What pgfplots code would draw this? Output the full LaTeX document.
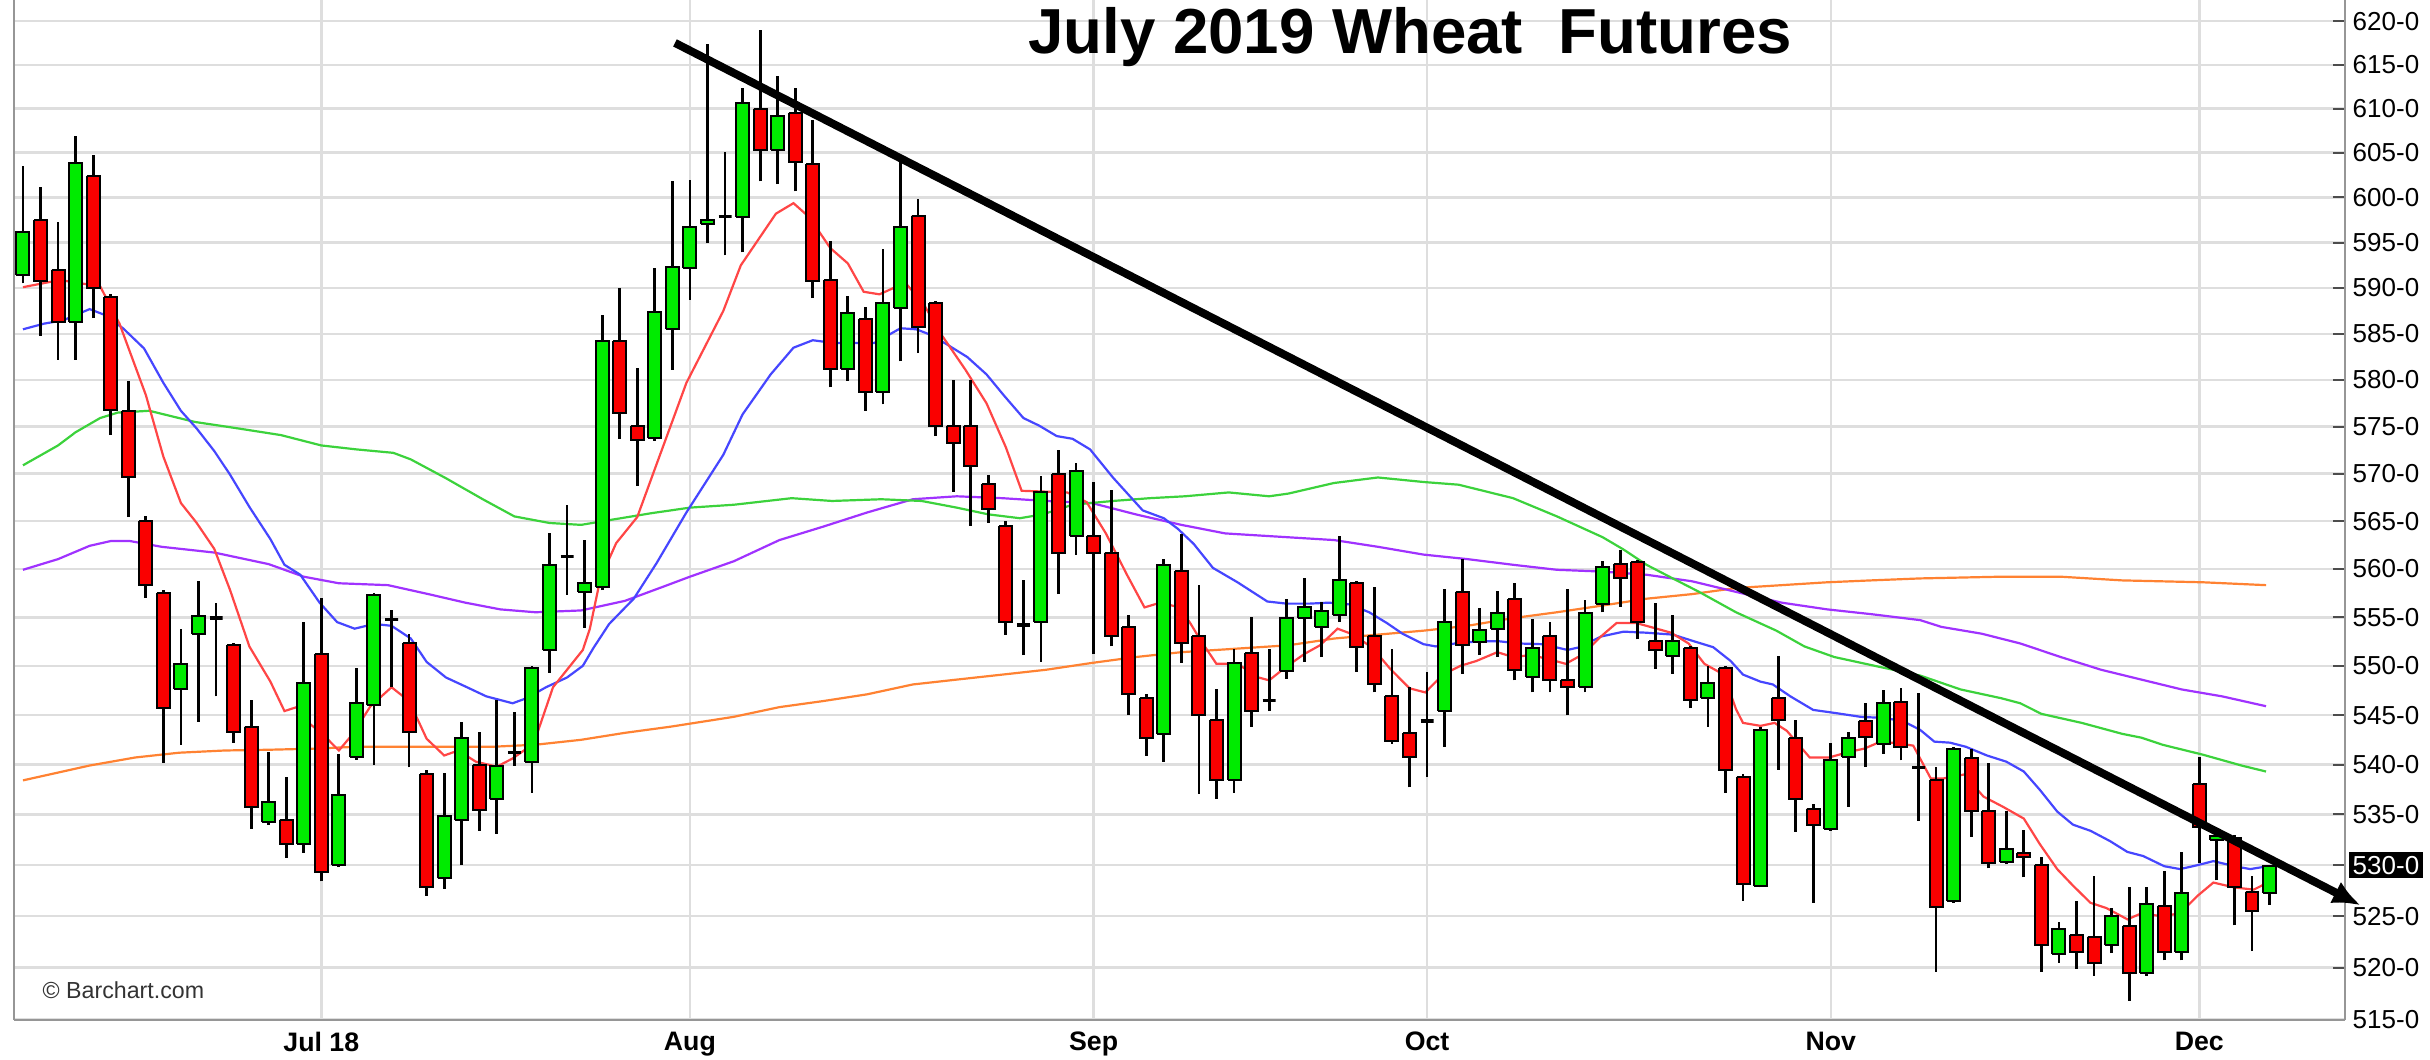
\documentclass[border=0pt]{standalone}
\usepackage{pgfplots}
\pgfplotsset{compat=1.18}
\usepackage{fontspec}
\setmainfont{Liberation Sans}
\usetikzlibrary{arrows.meta}

\definecolor{cgreen}{RGB}{0,235,0}
\definecolor{cred}{RGB}{250,0,0}
\definecolor{mared}{RGB}{255,70,70}
\definecolor{mablue}{RGB}{70,70,255}
\definecolor{magreen}{RGB}{60,210,60}
\definecolor{mapurple}{RGB}{160,50,255}
\definecolor{maorange}{RGB}{255,130,50}
\definecolor{gridgray}{RGB}{222,222,222}
\definecolor{axisgray}{RGB}{150,150,150}

\pgfplotsset{
  wick/.style={black, line width=0.28mm, mark=none, forget plot},
  cu/.style={draw=black, fill=cgreen, line width=0.2mm, mark=none, forget plot},
  cd/.style={draw=black, fill=cred, line width=0.2mm, mark=none, forget plot},
  cx/.style={draw=black, line width=0.32mm, mark=none, forget plot},
  ma/.style={line width=0.22mm, mark=none, forget plot},
}

% index, open, high, low, close, style
\newcommand\candle[6]{%
  \addplot[wick] coordinates {(#1,#4) (#1,#3)};%
  \pgfmathsetmacro\xl{#1-0.37}%
  \pgfmathsetmacro\xr{#1+0.37}%
  \edef\temp{\noexpand\addplot[#6] coordinates {(\xl,#2) (\xr,#2) (\xr,#5) (\xl,#5) (\xl,#2)};}%
  \temp
}

\begin{document}
\begin{tikzpicture}
\begin{axis}[
  at={(0,0)}, anchor=south west,
  scale only axis, width=233.1mm, height=102mm,
  xmin=-0.51, xmax=132.3,
  ymode=log, ymin=515, ymax=622.5,
  axis x line*=bottom, axis y line*=right,
  axis line style={draw=axisgray, line width=0.2mm},
  clip=false,
  xtick={17,38,61,80,103,124},
  xticklabels={Jul 18,Aug,Sep,Oct,Nov,Dec},
  ytick={515,520,525,530,535,540,545,550,555,560,565,570,575,580,585,590,595,600,605,610,615,620},
  yticklabels={515-0,520-0,525-0,{\hspace*{-0.4mm}\setlength{\fboxsep}{0.4mm}\colorbox{black}{\textcolor{white}{530-0}}},535-0,540-0,545-0,550-0,555-0,560-0,565-0,570-0,575-0,580-0,585-0,590-0,595-0,600-0,605-0,610-0,615-0,620-0},
  grid=major,
  major grid style={draw=gridgray, line width=0.25mm},
  tick align=inside,
  major tick length=1.2mm,
  tick style={draw=black!70, line width=0.2mm},
  xtick style={draw=none},
  xticklabel style={font=\bfseries\fontsize{7.6}{9}\selectfont, anchor=north, inner sep=0pt, yshift=-1.2mm},
  yticklabel style={font=\fontsize{7.4}{9}\selectfont, anchor=west, inner sep=0pt, xshift=0.7mm},
]
\draw[axisgray, line width=0.2mm] (rel axis cs:0,0) -- (rel axis cs:0,1);

% 200-day (orange)
\addplot[ma, maorange] coordinates {(0,538.4) (3.8,539.9) (6.4,540.7) (8.9,541.2) (11.5,541.4) (14.0,541.5) (16.5,541.6) (19.0,541.8) (24.1,541.8) (26.7,541.8) (29.2,542.0) (31.8,542.5) (34.3,543.2) (36.9,543.8) (40.5,544.8) (43.1,545.8) (45.6,546.4) (48.1,547.1) (50.7,548.1) (53.2,548.6) (55.8,549.1) (58.3,549.6) (60.9,550.3) (63.4,550.9) (66.0,551.4) (68.5,551.7) (72.1,552.1) (74.7,552.8) (77.2,553.2) (79.8,553.6) (82.3,554.1) (84.9,554.9) (87.4,555.5) (90.0,556.2) (92.5,556.9) (95.1,557.4) (97.6,558.0) (100.2,558.3) (102.8,558.6) (105.3,558.8) (108.1,559.0) (112.7,559.2) (116.1,559.2) (119.6,558.8) (124.2,558.6) (127.8,558.3)};
% 100-day (purple)
\addplot[ma, mapurple] coordinates {(0,559.9) (2,561.0) (3.8,562.4) (5.0,562.9) (6.1,562.9) (7.9,562.3) (10.9,561.7) (14.0,560.5) (16.0,559.2) (18.0,558.5) (20.8,558.3) (23.1,557.4) (25.2,556.5) (27.2,555.8) (29.2,555.5) (31.8,555.7) (34.3,556.7) (36.4,558.1) (38.0,559.2) (40.5,560.8) (43.1,563.0) (45.6,564.4) (48.1,565.9) (50.7,567.3) (53.2,567.6) (55.8,567.4) (58.3,567.1) (60.9,566.9) (63.4,565.7) (66.0,564.6) (68.5,563.7) (71.1,563.4) (74.7,563.0) (77.2,562.3) (79.8,561.5) (82.3,561.0) (84.9,560.4) (87.4,559.9) (90.0,559.7) (92.5,559.4) (95.1,558.7) (97.6,557.6) (100.2,556.5) (102.8,555.8) (105.3,555.3) (108.1,554.7) (109.3,554.0) (111.6,553.3) (113.8,552.3) (116.1,550.9) (118.4,549.6) (120.7,548.6) (123.0,547.6) (125.3,546.9) (127.8,545.9)};
% 50-day (green)
\addplot[ma, magreen] coordinates {(0,570.9) (2,573.0) (3,574.4) (4.4,575.9) (5.4,576.5) (7.2,576.7) (9.8,575.5) (12.3,574.8) (14.7,574.1) (17,573.0) (19,572.6) (21.1,572.2) (22.1,571.5) (24.1,569.5) (26.2,567.3) (28.0,565.5) (30.0,564.8) (31.8,564.6) (33.5,565.1) (35.8,565.8) (38.0,566.4) (40.5,566.7) (43.8,567.4) (46.1,567.1) (48.9,567.3) (51.2,567.1) (53.2,566.4) (55.0,565.7) (56.8,565.3) (58.1,565.7) (59.8,566.7) (62.1,567.1) (64.2,567.4) (66.2,567.6) (68.7,568.0) (71.0,567.6) (72.1,567.9) (74.7,569.0) (77.2,569.6) (79.8,569.1) (81.8,568.8) (84.9,567.4) (87.4,565.5) (90.0,563.3) (91.2,562.0) (92.5,560.4) (94.0,559.0) (95.5,557.6) (97.6,555.5) (99.9,553.6) (101.5,552.0) (103.2,550.9) (105.5,550.0) (108.1,549.0) (110.4,547.6) (112.7,546.7) (113.8,546.2) (115.0,545.1) (117.3,544.2) (119.6,543.1) (120.7,542.7) (121.9,542.0) (124.2,541.0) (126.4,539.9) (127.8,539.3)};
% 18-day (blue)
\addplot[ma, mablue] coordinates {(0,585.5) (1.2,586.1) (2.3,586.5) (3.8,587.7) (4.6,587.1) (5.7,585.6) (6.9,583.4) (8.0,579.7) (9.0,576.7) (9.9,574.8) (10.9,572.4) (11.8,569.9) (12.9,566.5) (14.1,563.1) (14.9,560.4) (15.8,559.4) (16.9,556.5) (17.9,554.5) (18.9,553.8) (20.0,554.3) (21.0,554.1) (22.1,552.8) (23.0,550.4) (24.1,548.8) (25.3,547.8) (26.4,546.9) (27.9,546.2) (28.7,546.7) (29.8,547.8) (31.0,548.8) (31.9,550.0) (32.5,551.8) (33.4,554.3) (34.8,556.9) (36.1,560.6) (37.8,565.9) (39.9,572.0) (41.0,576.3) (42.6,580.6) (43.9,583.5) (45.0,584.3) (46.2,584.0) (47.1,584.0) (48.5,584.0) (50.0,585.6) (50.9,585.5) (51.7,584.9) (52.6,583.9) (53.8,582.5) (54.9,580.6) (55.9,578.3) (57.0,575.9) (57.9,575.1) (58.9,574.0) (59.8,573.7) (60.8,572.6) (62.1,569.6) (63.8,566.1) (65.0,565.3) (65.8,564.2) (66.7,562.6) (67.8,560.1) (69.2,558.6) (70.9,556.6) (72.0,556.4) (73.3,556.4) (74.4,556.5) (75.6,556.3) (76.7,555.5) (77.7,554.4) (78.6,553.3) (79.8,552.2) (80.5,552.0) (81.6,552.3) (83.0,552.5) (84.1,552.5) (85.2,552.3) (86.6,552.2) (88.0,551.6) (88.7,551.9) (89.9,553.0) (91.2,553.5) (92.5,553.4) (94.0,553.2) (95.2,552.5) (96.3,551.9) (97.3,550.5) (98.0,549.1) (99.0,548.4) (99.7,548.1) (100.7,546.9) (102.0,545.5) (103.3,545.2) (104.7,544.8) (106.0,544.7) (107.1,544.4) (108.1,543.5) (108.9,542.3) (109.8,542.2) (110.7,541.8) (111.9,540.9) (113.0,540.3) (114.0,539.3) (114.9,537.5) (115.9,535.3) (116.8,534.0) (117.8,533.4) (118.9,532.4) (119.9,531.3) (120.8,530.9) (122.0,529.9) (122.9,529.6) (123.9,530.0) (124.8,530.4) (126.0,529.9) (126.9,529.6) (127.9,529.9)};
% 9-day (red)
\addplot[ma, mared] coordinates {(0,590.1) (2.1,590.9) (4.4,590.2) (5.5,586.1) (7.0,578.4) (8.0,571.8) (9.0,566.9) (9.9,564.8) (10.9,562.1) (11.8,557.8) (12.9,552.0) (14.1,548.4) (14.9,545.4) (15.6,545.8) (16.4,544.0) (17.0,543.2) (18.0,541.4) (18.8,543.1) (19.8,545.9) (21.0,547.8) (22.0,546.4) (23.0,542.6) (24.0,540.9) (24.8,541.4) (25.8,540.3) (27.0,539.8) (27.9,540.6) (29.1,542.1) (30.2,547.8) (31.0,549.6) (31.9,551.6) (32.3,553.8) (32.9,559.0) (33.8,562.7) (35.0,565.4) (36.1,571.0) (37.8,579.7) (39.9,587.5) (40.9,592.5) (42.9,598.2) (43.9,599.4) (44.8,597.8) (46.0,594.4) (47.0,592.7) (47.9,589.6) (48.8,589.3) (49.6,590.0) (50.4,590.3) (51.3,588.3) (52.3,585.0) (53.7,581.1) (54.9,577.5) (56.0,572.8) (56.9,568.2) (58.1,568.1) (59.5,568.0) (60.6,567.0) (61.7,563.7) (62.9,559.4) (63.9,556.0) (64.8,556.5) (65.9,556.0) (66.5,554.4) (67.1,552.6) (68.0,550.2) (69.2,550.2) (70.4,548.8) (71.0,548.5) (71.9,549.8) (73.0,551.2) (73.9,552.1) (74.9,553.8) (75.8,553.2) (76.9,551.8) (77.9,549.7) (79.0,547.7) (79.9,547.3) (80.9,549.1) (81.9,550.0) (82.8,550.5) (84.0,551.4) (84.9,550.9) (85.9,551.1) (86.9,550.7) (87.9,550.2) (88.9,551.2) (89.9,553.0) (90.8,554.4) (91.9,554.4) (92.9,553.9) (93.9,553.4) (94.9,552.3) (95.8,550.2) (96.9,549.1) (97.6,545.6) (98.0,544.2) (99.0,543.9) (99.8,544.2) (100.5,543.4) (101.8,540.7) (102.9,540.7) (104.1,541.3) (104.9,541.6) (105.7,542.2) (106.6,542.2) (107.7,541.9) (108.7,538.6) (109.4,538.6) (110.6,539.0) (111.7,536.8) (112.8,535.8) (114.0,534.6) (114.9,532.1) (115.9,529.6) (116.8,528.0) (117.8,526.3) (118.7,525.8) (119.9,524.7) (120.6,525.2) (122.0,525.0) (122.9,525.3) (123.9,527.0) (124.8,528.3) (126.0,527.8) (127.1,527.6) (127.9,528.3)};

% candles: index, open, high, low, close
\candle{0}{591.4}{603.5}{590.5}{596.2}{cu}
\candle{1}{597.5}{601.2}{584.8}{590.8}{cd}
\candle{2}{592.0}{597.3}{582.2}{586.3}{cd}
\candle{3}{586.3}{606.9}{582.2}{603.9}{cu}
\candle{4}{602.4}{604.8}{586.7}{590.0}{cd}
\candle{5}{589.0}{589.3}{574.1}{576.8}{cd}
\candle{6}{576.7}{579.9}{565.4}{569.6}{cd}
\candle{7}{565.0}{565.5}{557.0}{558.3}{cd}
\candle{8}{557.5}{557.8}{540.2}{545.7}{cd}
\candle{9}{547.6}{553.8}{542.0}{550.2}{cu}
\candle{10}{553.3}{558.7}{544.3}{555.1}{cu}
\candle{11}{554.9}{556.5}{546.9}{554.9}{cx}
\candle{12}{552.1}{552.3}{542.2}{543.3}{cd}
\candle{13}{543.8}{546.5}{533.6}{535.7}{cd}
\candle{14}{534.3}{541.3}{534.0}{536.3}{cu}
\candle{15}{534.5}{538.7}{530.7}{532.1}{cd}
\candle{16}{532.1}{554.5}{531.2}{548.3}{cu}
\candle{17}{551.2}{557.0}{528.4}{529.3}{cd}
\candle{18}{530.0}{541.1}{529.8}{537.0}{cu}
\candle{19}{540.7}{549.8}{540.5}{546.2}{cu}
\candle{20}{546.0}{557.5}{540.0}{557.3}{cu}
\candle{21}{554.8}{555.7}{547.9}{554.8}{cx}
\candle{22}{552.3}{553.3}{539.7}{543.3}{cd}
\candle{23}{539.1}{539.5}{527.0}{527.8}{cd}
\candle{24}{528.7}{539.2}{527.7}{534.9}{cu}
\candle{25}{534.5}{544.3}{530.0}{542.7}{cu}
\candle{26}{540.0}{543.3}{533.4}{535.5}{cd}
\candle{27}{536.6}{546.5}{533.1}{539.9}{cu}
\candle{28}{541.2}{545.3}{539.9}{541.2}{cx}
\candle{29}{540.3}{550.0}{537.2}{549.8}{cu}
\candle{30}{551.6}{563.7}{549.3}{560.4}{cu}
\candle{31}{561.3}{566.7}{557.3}{561.3}{cx}
\candle{32}{557.6}{563.0}{553.9}{558.5}{cu}
\candle{33}{558.1}{587.1}{557.8}{584.2}{cu}
\candle{34}{584.2}{590.0}{573.7}{576.5}{cd}
\candle{35}{575.1}{581.3}{568.7}{573.6}{cd}
\candle{36}{573.8}{592.2}{573.5}{587.4}{cu}
\candle{37}{585.5}{601.8}{581.1}{592.3}{cu}
\candle{38}{592.2}{601.9}{588.7}{596.7}{cu}
\candle{39}{597.1}{617.4}{594.9}{597.5}{cu}
\candle{40}{597.9}{605.1}{593.6}{597.9}{cx}
\candle{41}{597.8}{612.4}{593.9}{610.7}{cu}
\candle{42}{610.0}{619.0}{601.8}{605.3}{cd}
\candle{43}{605.3}{613.7}{601.5}{609.2}{cu}
\candle{44}{609.5}{612.4}{600.7}{604.0}{cd}
\candle{45}{603.7}{608.7}{588.9}{590.8}{cd}
\candle{46}{590.9}{595.2}{579.2}{581.2}{cd}
\candle{47}{581.2}{589.1}{579.9}{587.3}{cu}
\candle{48}{586.6}{587.9}{576.7}{578.7}{cd}
\candle{49}{578.7}{594.3}{577.4}{588.4}{cu}
\candle{50}{587.8}{604.2}{582.0}{596.7}{cu}
\candle{51}{598.0}{599.8}{582.9}{585.8}{cd}
\candle{52}{588.4}{588.6}{574.0}{575.1}{cd}
\candle{53}{575.1}{580.0}{568.1}{573.3}{cd}
\candle{54}{575.1}{580.0}{564.5}{570.8}{cd}
\candle{55}{568.9}{569.8}{564.8}{566.3}{cd}
\candle{56}{564.5}{565.0}{553.2}{554.5}{cd}
\candle{57}{554.2}{558.9}{551.1}{554.2}{cx}
\candle{58}{554.5}{569.7}{550.4}{568.0}{cu}
\candle{59}{570.0}{572.5}{557.4}{561.7}{cd}
\candle{60}{563.4}{571.1}{561.5}{570.3}{cu}
\candle{61}{563.4}{569.1}{551.2}{561.7}{cd}
\candle{62}{561.7}{568.3}{552.0}{553.1}{cd}
\candle{63}{554.0}{555.2}{545.0}{547.1}{cd}
\candle{64}{546.7}{547.1}{540.9}{542.7}{cd}
\candle{65}{543.1}{561.0}{540.3}{560.4}{cu}
\candle{66}{559.8}{563.6}{550.3}{552.3}{cd}
\candle{67}{553.1}{558.3}{537.1}{545.0}{cd}
\candle{68}{544.5}{547.6}{536.6}{538.5}{cd}
\candle{69}{538.5}{551.7}{537.2}{550.3}{cu}
\candle{70}{551.3}{555.0}{543.8}{545.4}{cd}
\candle{71}{546.5}{551.7}{545.4}{546.5}{cx}
\candle{72}{549.5}{556.9}{548.7}{554.9}{cu}
\candle{73}{554.9}{559.1}{550.4}{556.1}{cu}
\candle{74}{554.0}{556.6}{550.9}{555.6}{cu}
\candle{75}{555.2}{563.4}{554.5}{558.9}{cu}
\candle{76}{558.5}{558.7}{549.4}{551.9}{cd}
\candle{77}{553.1}{558.1}{547.3}{548.1}{cd}
\candle{78}{546.9}{551.7}{542.1}{542.4}{cd}
\candle{79}{543.2}{547.9}{537.7}{540.7}{cd}
\candle{80}{544.4}{549.4}{538.8}{544.4}{cx}
\candle{81}{545.4}{557.9}{541.8}{554.5}{cu}
\candle{82}{557.6}{561.0}{549.2}{552.1}{cd}
\candle{83}{552.4}{555.9}{551.1}{553.7}{cu}
\candle{84}{553.8}{557.7}{550.9}{555.4}{cu}
\candle{85}{556.9}{558.5}{548.5}{549.6}{cd}
\candle{86}{548.9}{554.8}{547.3}{551.8}{cu}
\candle{87}{553.1}{554.5}{547.3}{548.6}{cd}
\candle{88}{548.5}{557.9}{545.0}{547.9}{cd}
\candle{89}{547.9}{556.8}{547.3}{555.4}{cu}
\candle{90}{556.4}{560.8}{555.5}{560.2}{cu}
\candle{91}{560.5}{562.0}{556.1}{559.0}{cd}
\candle{92}{560.7}{560.9}{552.7}{554.5}{cd}
\candle{93}{552.5}{556.5}{549.7}{551.6}{cd}
\candle{94}{551.0}{555.2}{549.2}{552.5}{cu}
\candle{95}{551.8}{552.0}{545.7}{546.5}{cd}
\candle{96}{546.7}{550.0}{543.8}{548.3}{cu}
\candle{97}{549.8}{550.0}{537.2}{539.4}{cd}
\candle{98}{538.7}{539.0}{526.5}{528.1}{cd}
\candle{99}{528.0}{543.8}{527.8}{543.5}{cu}
\candle{100}{546.7}{551.0}{539.5}{544.5}{cd}
\candle{101}{542.7}{544.5}{533.3}{536.6}{cd}
\candle{102}{535.6}{536.1}{526.3}{534.0}{cd}
\candle{103}{533.6}{542.2}{533.4}{540.4}{cu}
\candle{104}{540.8}{543.3}{535.8}{542.7}{cu}
\candle{105}{544.4}{546.2}{539.8}{542.8}{cd}
\candle{106}{542.1}{547.5}{541.1}{546.2}{cu}
\candle{107}{546.3}{547.7}{540.4}{541.8}{cd}
\candle{108}{539.7}{547.2}{534.4}{539.7}{cx}
\candle{109}{538.4}{539.7}{519.6}{525.9}{cd}
\candle{110}{526.5}{541.8}{526.3}{541.6}{cu}
\candle{111}{540.6}{541.6}{532.8}{535.4}{cd}
\candle{112}{535.4}{540.1}{529.7}{530.2}{cd}
\candle{113}{530.3}{535.4}{530.1}{531.6}{cu}
\candle{114}{531.2}{533.5}{528.8}{530.8}{cd}
\candle{115}{530.0}{530.8}{519.6}{522.2}{cd}
\candle{116}{521.3}{524.4}{520.5}{523.7}{cu}
\candle{117}{523.2}{526.5}{519.9}{521.5}{cd}
\candle{118}{523.0}{528.9}{519.2}{520.4}{cd}
\candle{119}{522.2}{525.8}{521.4}{525.0}{cu}
\candle{120}{524.0}{527.8}{516.8}{519.5}{cd}
\candle{121}{519.5}{527.8}{519.2}{526.2}{cu}
\candle{122}{526.0}{529.4}{520.7}{521.5}{cd}
\candle{123}{521.5}{531.3}{520.7}{527.3}{cu}
\candle{124}{538.0}{540.8}{530.2}{533.8}{cd}
\candle{125}{532.5}{533.1}{528.5}{532.9}{cu}
\candle{126}{532.7}{533.0}{524.1}{527.8}{cd}
\candle{127}{527.4}{528.9}{521.6}{525.5}{cd}
\candle{128}{527.3}{530.0}{526.1}{529.9}{cu}

% trend line
\addplot[black, line width=0.8mm, mark=none, -{Latex[length=2.8mm,width=2.4mm]}] coordinates {(37.15,617.5) (133.19,526.05)};

\node[anchor=base, font=\bfseries\fontsize{18.1}{20}\selectfont] at (rel axis cs:0.5989,0.947) {July 2019 Wheat\ \ Futures};
\node[anchor=base west, font=\fontsize{6.6}{8}\selectfont, text=black!80, inner sep=0pt] at (rel axis cs:0.012,0.0206) {© Barchart.com};
\end{axis}
\pgfresetboundingbox
\path[use as bounding box] (-1.4mm,-4mm) rectangle (241.6mm,102mm);
\end{tikzpicture}
\end{document}
